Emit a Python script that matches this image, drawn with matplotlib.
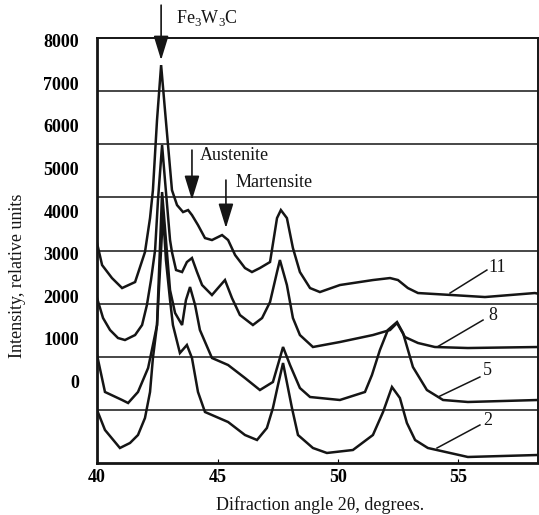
import numpy as np
import matplotlib
matplotlib.use('Agg')
import matplotlib.pyplot as plt

plt.rcParams['font.family'] = ['Liberation Serif', 'DejaVu Serif']
plt.rcParams['mathtext.fontset'] = 'custom'
plt.rcParams['mathtext.rm'] = 'Liberation Serif'

# digitised XRD patterns (2theta in degrees, intensity in the plot's relative units)
tt_11 = [40.00, 40.21, 40.62, 41.04, 41.58, 41.99, 42.20, 42.32, 42.49, 42.66, 42.82, 43.11,
         43.32, 43.57, 43.78, 43.94, 44.19, 44.48, 44.77, 45.19, 45.44, 45.73, 46.14, 46.43,
         46.76, 47.18, 47.47, 47.63, 47.88, 48.13, 48.42, 48.84, 49.25, 50.08, 51.45, 52.16,
         52.49, 52.90, 53.32, 54.73, 56.10, 58.17, 58.32]
int_11 = [3251, 2734, 2429, 2194, 2335, 3039, 3837, 4494, 6138, 7428, 6372, 4494,
          4142, 3978, 4025, 3908, 3673, 3368, 3321, 3438, 3321, 2969, 2664, 2570,
          2664, 2805, 3837, 4025, 3837, 3133, 2570, 2194, 2100, 2265, 2382, 2429,
          2382, 2194, 2077, 2030, 1983, 2077, 2060]

tt_8 = [40.00, 40.25, 40.54, 40.87, 41.16, 41.58, 41.87, 42.07, 42.24, 42.41, 42.53, 42.70,
        42.82, 43.03, 43.11, 43.28, 43.53, 43.73, 43.94, 44.15, 44.36, 44.77, 45.02, 45.31,
        45.60, 45.93, 46.47, 46.85, 47.18, 47.47, 47.59, 47.88, 48.13, 48.42, 48.96, 50.08,
        51.45, 52.16, 52.45, 52.78, 53.32, 54.02, 55.39, 58.32]
int_8 = [1960, 1490, 1209, 1021, 974, 1091, 1326, 1795, 2382, 3086, 4260, 5551,
         4729, 3321, 3039, 2617, 2570, 2805, 2899, 2570, 2265, 2030, 2194, 2382,
         1960, 1561, 1326, 1490, 1866, 2570, 2852, 2265, 1490, 1091, 810, 927,
         1091, 1209, 1373, 1044, 904, 810, 786, 810]

tt_5 = [40.00, 40.33, 41.04, 41.29, 41.70, 42.12, 42.32, 42.49, 42.70, 42.86, 43.03, 43.24,
        43.53, 43.69, 43.86, 44.07, 44.27, 44.77, 45.44, 46.14, 46.76, 47.30, 47.59, 47.72,
        48.01, 48.42, 48.84, 50.08, 51.12, 51.41, 51.74, 52.07, 52.45, 52.70, 53.11, 53.69,
        54.36, 55.39, 58.32]
int_5 = [622, -246, -434, -505, -246, 317, 857, 1326, 4448, 3321, 2147, 1608,
         1326, 1913, 2218, 1795, 1209, 552, 387, 82, -200, -12, 552, 810,
         387, -153, -364, -434, -246, 153, 739, 1209, 1396, 1138, 340, -200,
         -434, -481, -434]

tt_2 = [40.00, 40.33, 40.95, 41.37, 41.70, 41.99, 42.20, 42.32, 42.49, 42.74, 42.86, 43.03,
        43.15, 43.44, 43.73, 43.94, 44.19, 44.48, 45.44, 46.14, 46.64, 47.05, 47.30, 47.51,
        47.72, 48.09, 48.34, 48.96, 49.54, 50.62, 51.45, 51.87, 52.24, 52.57, 52.86, 53.20,
        53.73, 55.39, 58.32]
int_2 = [-669, -1138, -1561, -1443, -1256, -857, -246, 552, 1326, 3955, 2852, 1913,
         1326, 669, 857, 552, -246, -716, -951, -1256, -1373, -1091, -622, -82,
         434, -622, -1256, -1561, -1678, -1608, -1256, -716, -129, -387, -974, -1373,
         -1561, -1772, -1725]

curves = [(tt_11, int_11), (tt_8, int_8), (tt_5, int_5), (tt_2, int_2)]
curve_names = ['11', '8', '5', '2']
# label position, leader start, leader end on the curve
label_pos = [(56.60, 2687), (56.43, 1561), (56.22, 270), (56.22, -904)]
leader_from = [(56.18, 2617), (56.02, 1443), (55.89, 106), (55.89, -1021)]
leader_to = [(54.65, 2077), (54.11, 810), (54.15, -364), (54.11, -1561)]

y_ticks = [0, 1000, 2000, 3000, 4000, 5000, 6000, 7000, 8000]
x_ticks = [40, 45, 50, 55]
ylo, yhi = -1913, 8062

ink = '#151515'

fig = plt.figure(figsize=(5.39, 5.15), dpi=100)
ax = fig.add_axes([0.180, 0.101, 0.819, 0.825])

# horizontal rules (evenly spaced, not tied to the tick labels in the original)
for g in np.linspace(ylo, yhi, 9)[1:-1]:
    ax.axhline(g, color=ink, lw=1.1, zorder=1)

for (tt, inten) in curves:
    ax.plot(tt, inten, color=ink, lw=1.8, zorder=3, solid_joinstyle='miter')

for name, p, a, b in zip(curve_names, label_pos, leader_from, leader_to):
    ax.plot([a[0], b[0]], [a[1], b[1]], color=ink, lw=1.1, zorder=4)
    ax.text(p[0], p[1], name, fontsize=13, ha='center', va='center', color=ink)

arrow_kw = dict(arrowstyle='-|>,head_length=0.75,head_width=0.23', color=ink, lw=1.2,
                shrinkA=0, shrinkB=0, mutation_scale=20)
ax.annotate('', xy=(42.66, 7545), xytext=(42.66, 8836), arrowprops=arrow_kw,
            annotation_clip=False)
ax.text(44.56, 8531, 'Fe$_3$W$_3$C', fontsize=13, ha='center', va='center',
        clip_on=False, color=ink)
ax.annotate('', xy=(43.94, 4260), xytext=(43.94, 5433), arrowprops=arrow_kw)
ax.text(44.27, 5316, 'Austenite', fontsize=13, ha='left', va='center', color=ink)
ax.annotate('', xy=(45.35, 3603), xytext=(45.35, 4729), arrowprops=arrow_kw)
ax.text(45.73, 4682, 'Martensite', fontsize=13, ha='left', va='center', color=ink)

ax.set_xlim(40, 58.32)
ax.set_ylim(ylo, yhi)
ax.set_xticks(x_ticks)
ax.set_yticks(y_ticks)
ax.set_xticklabels([str(t) for t in x_ticks], fontsize=13, fontweight='bold')
ax.set_yticklabels([str(t) for t in y_ticks], fontsize=13, fontweight='bold')
ax.tick_params(axis='y', length=0, pad=13)
ax.tick_params(axis='x', length=3, direction='in', pad=4)
for s in ax.spines.values():
    s.set_linewidth(1.4)
    s.set_color(ink)
ax.spines['left'].set_linewidth(2)
ax.spines['bottom'].set_linewidth(2)

fig.text(0.594, 0.019, 'Difraction angle 2θ, degrees.', fontsize=13,
         ha='center', va='center', color=ink)
fig.text(0.033, 0.464, 'Intensity, relative units', fontsize=13, rotation=90,
         ha='center', va='center', color=ink)

fig.savefig('out.png', dpi=100, facecolor='white')
